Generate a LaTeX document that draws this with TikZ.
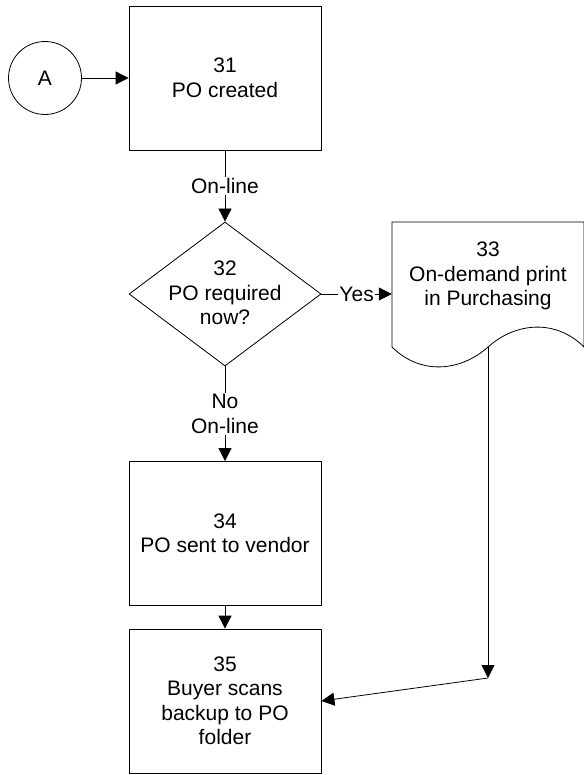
\documentclass[tikz,border=0pt]{standalone}
\usepackage{fontspec}
\setmainfont{Liberation Sans}
\usetikzlibrary{arrows.meta,shapes.geometric}
\begin{document}
\begin{tikzpicture}[x=1pt,y=-1pt,
  every node/.style={font=\fontsize{21}{24.5}\selectfont, align=center},
  flow/.style={draw=black, line width=0.8pt},
  procbox/.style={flow, rectangle, minimum width=192pt, minimum height=144pt, inner sep=0pt},
  conn/.style={line width=0.8pt, -{Triangle[length=13pt,width=13pt]}},
  lbl/.style={fill=white, inner sep=1.5pt}]
\useasboundingbox (0,0) rectangle (583,775);

% start connector
\node[flow, circle, minimum size=73pt, inner sep=0pt] (a) at (45,78) {A};

% process steps
\node[procbox] (p31) at (225,78) {31\\PO created};
\node[procbox] (p34) at (225,533.5) {34\\PO sent to vendor};
\node[procbox] (p35) at (225,701) {35\\Buyer scans\\backup to PO\\folder};

% decision
\node[flow, diamond, minimum width=192pt, minimum height=144pt, inner sep=0pt, aspect=1.333] (d32) at (225,294) {};
\node (d32t) at (225,293) {32\\PO required\\now?};

% document shape (right edge runs past the page)
\node[minimum width=192pt, minimum height=144pt, inner sep=0pt] (d33) at (488,294) {};
\draw[line width=0.8pt] (392,347) -- (392,222) -- (584,222) -- (584,347)
  .. controls (556,319) and (516,322) .. (488,347)
  .. controls (460,372) and (420,375) .. (392,347);
\node (d33t) at (488,276) {33\\On-demand print\\in Purchasing};
\coordinate (doctail) at (488,347);
\coordinate (bend) at (488,678);

% connectors
\draw[conn] (a) -- (p31);
\draw[conn] (p31) -- node[lbl] {On-line} (d32);
\draw[conn] (d32) -- node[lbl] {Yes} (d33.west);
\draw[conn] (d32) -- node[lbl] {No\\On-line} (p34);
\draw[conn] (p34) -- (p35);
\draw[conn] (doctail) -- (bend);
\draw[conn] (bend) -- (p35.east);
\end{tikzpicture}
\end{document}
